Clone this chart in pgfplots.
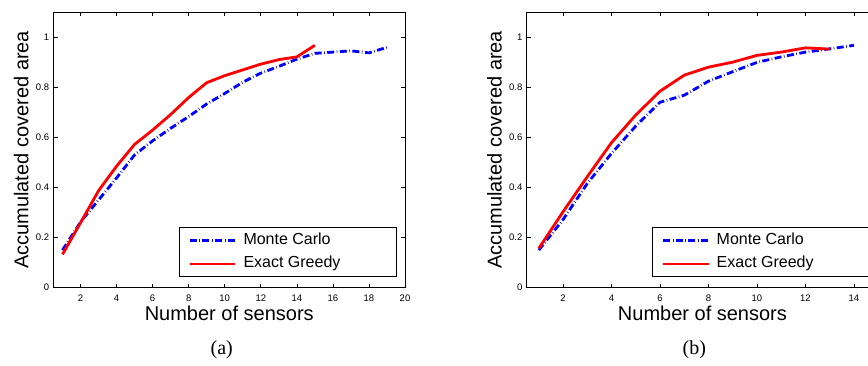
\documentclass[border=0pt]{standalone}
\usepackage{fontspec}
\setmainfont{Liberation Serif}
\setsansfont{Liberation Sans}
\usepackage{pgfplots}
\pgfplotsset{compat=1.18}
\definecolor{mcblue}{RGB}{0,0,255}
\definecolor{egred}{RGB}{255,0,0}
\pgfplotsset{
  mystyle/.style={
    scale only axis, width=351.5pt, height=275.7pt, anchor=south west,
    xmin=0.5, ymin=0, ymax=1.1,
    xtick={2,4,...,20}, ytick={0,0.2,0.4,0.6,0.8,1},
    yticklabels={0,0.2,0.4,0.6,0.8,1},
    tick pos=both, tick align=inside, major tick length=4pt,
    every tick/.style={black, line width=0.6pt},
    axis line style={black, line width=0.8pt},
    /pgf/number format/assume math mode=true,
    ticklabel style={font=\fontsize{9.5}{10}\sffamily},
    xticklabel style={anchor=base, yshift=-13.4pt},
    yticklabel style={anchor=east, inner sep=0pt, xshift=-4.2pt},
    xlabel style={at={(axis description cs:0.5,-0.1197)}, anchor=base, font=\fontsize{20}{24}\sffamily},
    ylabel style={at={(axis description cs:-0.0717,0.5)}, anchor=base, font=\fontsize{20}{24}\sffamily},
    xlabel={Number of sensors}, ylabel={Accumulated covered area},
    legend cell align=left,
    legend image code/.code={\draw[##1] (0pt,0pt) -- (45.6pt,0pt);},
    legend style={at={(0.978,0.0377)}, anchor=south east, draw=black, line width=0.9pt, fill=white,
      inner xsep=9.4pt, inner ysep=5.5pt, row sep=8.7pt, font=\fontsize{16}{18}\sffamily,
      nodes={inner sep=0pt, text height=11.5pt, text depth=3.4pt},
      /tikz/every odd column/.append style={column sep=6.7pt}},
  },
  mc/.style={mcblue, line width=2.8pt, line cap=butt, dash pattern=on 7pt off 2.5pt on 0.6pt off 2.5pt},
  eg/.style={egred, line width=2.8pt, solid},
}
\begin{document}
\begin{tikzpicture}[x=1pt,y=1pt]
\useasboundingbox (0,0) rectangle (868,365);
\begin{axis}[mystyle, at={(53.5pt,77.3pt)}, xmax=20]
\addplot[mc] coordinates {(1,0.150) (2,0.262) (3,0.350) (4,0.438) (5,0.530) (6,0.586) (7,0.636) (8,0.683) (9,0.733) (10,0.775) (11,0.820) (12,0.856) (13,0.883) (14,0.912) (15,0.935) (16,0.940) (17,0.945) (18,0.937) (19,0.959)};
\addlegendentry{\makebox[143.9pt][l]{Monte Carlo}}
\addplot[eg] coordinates {(1,0.133) (2,0.259) (3,0.387) (4,0.485) (5,0.572) (6,0.629) (7,0.691) (8,0.759) (9,0.818) (10,0.846) (11,0.869) (12,0.892) (13,0.910) (14,0.921) (15,0.967)};
\addlegendentry{\makebox[143.9pt][l]{Exact Greedy}}
\end{axis}
\begin{axis}[mystyle, at={(526.7pt,77.3pt)}, xmax=15]
\addplot[mc] coordinates {(1,0.150) (2,0.272) (3,0.416) (4,0.536) (5,0.645) (6,0.740) (7,0.768) (8,0.824) (9,0.862) (10,0.899) (11,0.921) (12,0.940) (13,0.953) (14,0.967)};
\addlegendentry{\makebox[143.9pt][l]{Monte Carlo}}
\addplot[eg] coordinates {(1,0.157) (2,0.303) (3,0.443) (4,0.579) (5,0.689) (6,0.784) (7,0.848) (8,0.880) (9,0.900) (10,0.927) (11,0.940) (12,0.957) (13,0.952)};
\addlegendentry{\makebox[143.9pt][l]{Exact Greedy}}
\end{axis}
\node[anchor=base, font=\fontsize{20}{24}\selectfont] at (221.7,10.2) {(a)};
\node[anchor=base, font=\fontsize{20}{24}\selectfont] at (694.3,10.2) {(b)};
\end{tikzpicture}
\end{document}
